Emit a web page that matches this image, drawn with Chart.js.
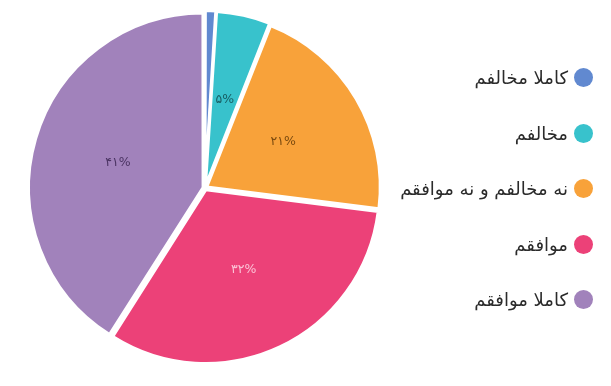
<!DOCTYPE html>
<html>
<head>
<meta charset="utf-8">
<script src="https://cdn.jsdelivr.net/npm/chart.js@4"></script>
<style>
  html, body { margin: 0; padding: 0; background: #fff; }
  #wrap { position: relative; width: 611px; height: 386px; }
  #legend {
    position: absolute; top: 50px; right: 18px;
    direction: rtl; font-family: "DejaVu Sans", sans-serif; font-size: 18px; color: #2b2b2b;
  }
  #legend .item { display: flex; align-items: center; height: 55.5px; }
  #legend .dot { width: 19px; height: 19px; border-radius: 50%; margin-left: 6px; flex: none; }
</style>
</head>
<body>
<div id="wrap">
  <canvas id="pie"></canvas>
  <div id="legend"></div>
</div>
<script>
const categories = ['کاملا مخالفم', 'مخالفم', 'نه مخالفم و نه موافقم', 'موافقم', 'کاملا موافقم'];
const percentValues = [1, 5, 21, 32, 41];
const sliceColors = ['#6189d0', '#38c2cc', '#f8a23a', '#ec4178', '#a182bb'];
const labelColors = ['#23407a', '#175c61', '#7a4a0f', '#fbc3d6', '#4b3463'];

const toPersian = (n) => String(n).replace(/\d/g, d => '۰۱۲۳۴۵۶۷۸۹'[d]);

// html legend on the right
const legendBox = document.getElementById('legend');
categories.forEach((name, i) => {
    const row = document.createElement('div');
    row.className = 'item';
    const dot = document.createElement('span');
    dot.className = 'dot';
    dot.style.background = sliceColors[i];
    const txt = document.createElement('span');
    txt.innerText = name;
    row.appendChild(dot);
    row.appendChild(txt);
    legendBox.appendChild(row);
});

// draws the % text in the middle of each slice
const sliceLabels = {
    id: 'sliceLabels',
    afterDatasetsDraw(chart) {
        const c = chart.ctx;
        const meta = chart.getDatasetMeta(0);
        c.save();
        c.font = '12.5px "DejaVu Sans", sans-serif';
        c.textAlign = 'center';
        c.textBaseline = 'middle';
        meta.data.forEach((arc, i) => {
            if (percentValues[i] < 3) return; // too thin
            const p = arc.tooltipPosition();
            c.fillStyle = labelColors[i];
            c.fillText(toPersian(percentValues[i]) + '%', p.x, p.y);
        });
        c.restore();
    }
};

new Chart(document.getElementById('pie'), {
    type: 'pie',
    data: {
        labels: categories,
        datasets: [{
            data: percentValues,
            backgroundColor: sliceColors,
            borderColor: '#ffffff',
            borderWidth: 3,
            offset: 8
        }]
    },
    options: {
        responsive: true,
        maintainAspectRatio: false,
        animation: false,
        layout: { padding: { left: 26, top: 9, bottom: 19, right: 227 } },
        plugins: {
            tooltip: { enabled: false },
            legend: { display: false }
        }
    },
    plugins: [sliceLabels]
});
</script>
</body>
</html>
